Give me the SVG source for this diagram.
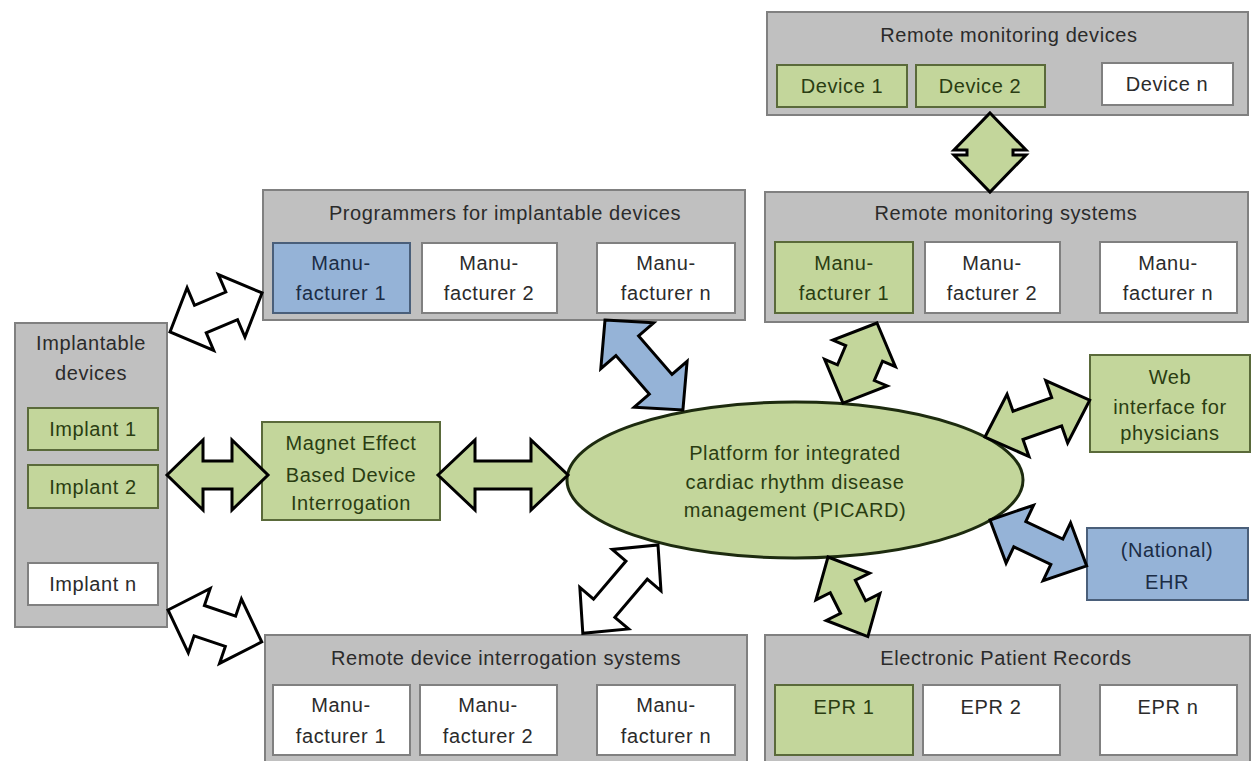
<svg xmlns="http://www.w3.org/2000/svg" width="1251" height="761" viewBox="0 0 1251 761">
<style>
.cont{fill:#c0c0c0;stroke:#808080;stroke-width:2}
.g{fill:#c3d69b;stroke:#5a6a3a;stroke-width:2}
.b{fill:#95b3d7;stroke:#4a5f7a;stroke-width:2}
.w{fill:#ffffff;stroke:#808080;stroke-width:2}
.arr{stroke:#000;stroke-width:3;stroke-linejoin:miter}
.ag{fill:#c3d69b}.ab{fill:#95b3d7}.aw{fill:#ffffff}
text{font-family:"Liberation Sans",Arial,sans-serif;font-size:20px;letter-spacing:0.6px;text-anchor:middle}
.tt{fill:#2b2b2b}.tg{fill:#2a3d12}.tb{fill:#1b2c45}.tw{fill:#2b2b2b}
</style>
<rect width="1251" height="761" fill="#ffffff"/>

<g id="remote-monitoring-devices">
<rect class="cont" x="767" y="12" width="481" height="103"/>
<text class="tt" x="1009" y="42">Remote monitoring devices</text>
<rect class="g" x="777" y="65" width="130" height="42"/>
<text class="tg" x="842" y="93">Device 1</text>
<rect class="g" x="916" y="65" width="129" height="42"/>
<text class="tg" x="980" y="93">Device 2</text>
<rect class="w" x="1102" y="63" width="131" height="42"/>
<text class="tw" x="1167" y="91">Device n</text>
</g>

<g id="remote-monitoring-systems">
<rect class="cont" x="765" y="192" width="483" height="130"/>
<text class="tt" x="1006" y="220">Remote monitoring systems</text>
<rect class="g" x="775" y="242" width="138" height="71"/>
<text class="tg" x="844" y="270">Manu-</text>
<text class="tg" x="844" y="300">facturer 1</text>
<rect class="w" x="925" y="242" width="135" height="71"/>
<text class="tw" x="992" y="270">Manu-</text>
<text class="tw" x="992" y="300">facturer 2</text>
<rect class="w" x="1100" y="242" width="137" height="71"/>
<text class="tw" x="1168" y="270">Manu-</text>
<text class="tw" x="1168" y="300">facturer n</text>
</g>

<g id="programmers">
<rect class="cont" x="263" y="190" width="482" height="130"/>
<text class="tt" x="505" y="220">Programmers for  implantable devices</text>
<rect class="b" x="273" y="243" width="137" height="70"/>
<text class="tb" x="341" y="270">Manu-</text>
<text class="tb" x="341" y="300">facturer 1</text>
<rect class="w" x="422" y="243" width="135" height="70"/>
<text class="tw" x="489" y="270">Manu-</text>
<text class="tw" x="489" y="300">facturer 2</text>
<rect class="w" x="597" y="243" width="138" height="70"/>
<text class="tw" x="666" y="270">Manu-</text>
<text class="tw" x="666" y="300">facturer n</text>
</g>

<g id="implantable-devices">
<rect class="cont" x="15" y="323" width="152" height="304"/>
<text class="tt" x="91" y="350">Implantable</text>
<text class="tt" x="91" y="380">devices</text>
<rect class="g" x="28" y="408" width="130" height="42"/>
<text class="tg" x="93" y="436">Implant 1</text>
<rect class="g" x="28" y="465" width="130" height="43"/>
<text class="tg" x="93" y="494">Implant 2</text>
<rect class="w" x="28" y="563" width="130" height="42"/>
<text class="tw" x="93" y="591">Implant  n</text>
</g>

<g id="magnet-effect">
<rect class="g" x="262" y="422" width="178" height="98"/>
<text class="tg" x="351" y="450">Magnet Effect</text>
<text class="tg" x="351" y="482">Based Device</text>
<text class="tg" x="351" y="510">Interrogation</text>
</g>

<g id="picard">
<ellipse cx="795" cy="480" rx="228" ry="78" fill="#c3d69b" stroke="#1d2b0f" stroke-width="3"/>
<text class="tg" x="795" y="460">Platform for integrated</text>
<text class="tg" x="795" y="489">cardiac rhythm disease</text>
<text class="tg" x="795" y="517">management (PICARD)</text>
</g>

<g id="web-interface">
<rect class="g" x="1090" y="355" width="160" height="97"/>
<text class="tg" x="1170" y="384">Web</text>
<text class="tg" x="1170" y="414">interface for</text>
<text class="tg" x="1170" y="440">physicians</text>
</g>

<g id="ehr">
<rect class="b" x="1087" y="528" width="161" height="72"/>
<text class="tb" x="1167" y="557">(National)</text>
<text class="tb" x="1167" y="589">EHR</text>
</g>

<g id="remote-device-interrogation">
<rect class="cont" x="265" y="635" width="482" height="130"/>
<text class="tt" x="506" y="665">Remote device interrogation systems</text>
<rect class="w" x="273" y="685" width="137" height="70"/>
<text class="tw" x="341" y="712">Manu-</text>
<text class="tw" x="341" y="743">facturer 1</text>
<rect class="w" x="420" y="685" width="137" height="70"/>
<text class="tw" x="488" y="712">Manu-</text>
<text class="tw" x="488" y="743">facturer 2</text>
<rect class="w" x="597" y="685" width="138" height="70"/>
<text class="tw" x="666" y="712">Manu-</text>
<text class="tw" x="666" y="743">facturer n</text>
</g>

<g id="electronic-patient-records">
<rect class="cont" x="765" y="635" width="485" height="130"/>
<text class="tt" x="1006" y="665">Electronic Patient Records</text>
<rect class="g" x="775" y="685" width="138" height="70"/>
<text class="tg" x="844" y="714">EPR 1</text>
<rect class="w" x="923" y="685" width="137" height="70"/>
<text class="tw" x="991" y="714">EPR 2</text>
<rect class="w" x="1100" y="685" width="137" height="70"/>
<text class="tw" x="1168" y="714">EPR n</text>
</g>

<g id="connectors">
<path class="arr ag" transform="translate(990,113) rotate(90)" d="M0,0 L37,-36 L37,-23 L42,-23 L42,-36 L79,0 L42,36 L42,23 L37,23 L37,36 Z"/>
<path class="arr aw" transform="translate(170,332) rotate(-23)" d="M0,0 L33,-34 L33,-15 L67,-15 L67,-34 L100,0 L67,34 L67,15 L33,15 L33,34 Z"/>
<path class="arr ag" transform="translate(167,475)" d="M0,0 L36,-35 L36,-14 L65,-14 L65,-35 L101,0 L65,35 L65,14 L36,14 L36,35 Z"/>
<path class="arr ag" transform="translate(438,475)" d="M0,0 L37,-35 L37,-14 L93,-14 L93,-35 L130,0 L93,35 L93,14 L37,14 L37,35 Z"/>
<path class="arr ab" transform="translate(605,320) rotate(49.1)" d="M0,0 L34,-35 L34,-15 L85,-15 L85,-35 L119,0 L85,35 L85,15 L34,15 L34,35 Z"/>
<path class="arr ag" transform="translate(877,323) rotate(113)" d="M0,0 L33,-34 L33,-20 L54,-20 L54,-34 L87,0 L54,34 L54,20 L33,20 L33,34 Z"/>
<path class="arr ag" transform="translate(985,437) rotate(-19.4)" d="M0,0 L35,-33 L35,-15 L76,-15 L76,-33 L111,0 L76,33 L76,15 L35,15 L35,33 Z"/>
<path class="arr ab" transform="translate(990,520) rotate(25.4)" d="M0,0 L33,-32 L33,-14 L74,-14 L74,-32 L107,0 L74,32 L74,14 L33,14 L33,32 Z"/>
<path class="arr ag" transform="translate(828,557) rotate(63.4)" d="M0,0 L33,-30 L33,-14 L56,-14 L56,-30 L89,0 L56,30 L56,14 L33,14 L33,30 Z"/>
<path class="arr aw" transform="translate(658,545) rotate(130.4)" d="M0,0 L33,-32 L33,-14 L83,-14 L83,-32 L116,0 L83,32 L83,14 L33,14 L33,32 Z"/>
<path class="arr aw" transform="translate(168,610) rotate(18.8)" d="M0,0 L33,-34 L33,-16 L66,-16 L66,-34 L99,0 L66,34 L66,16 L33,16 L33,34 Z"/>
</g>
</svg>
